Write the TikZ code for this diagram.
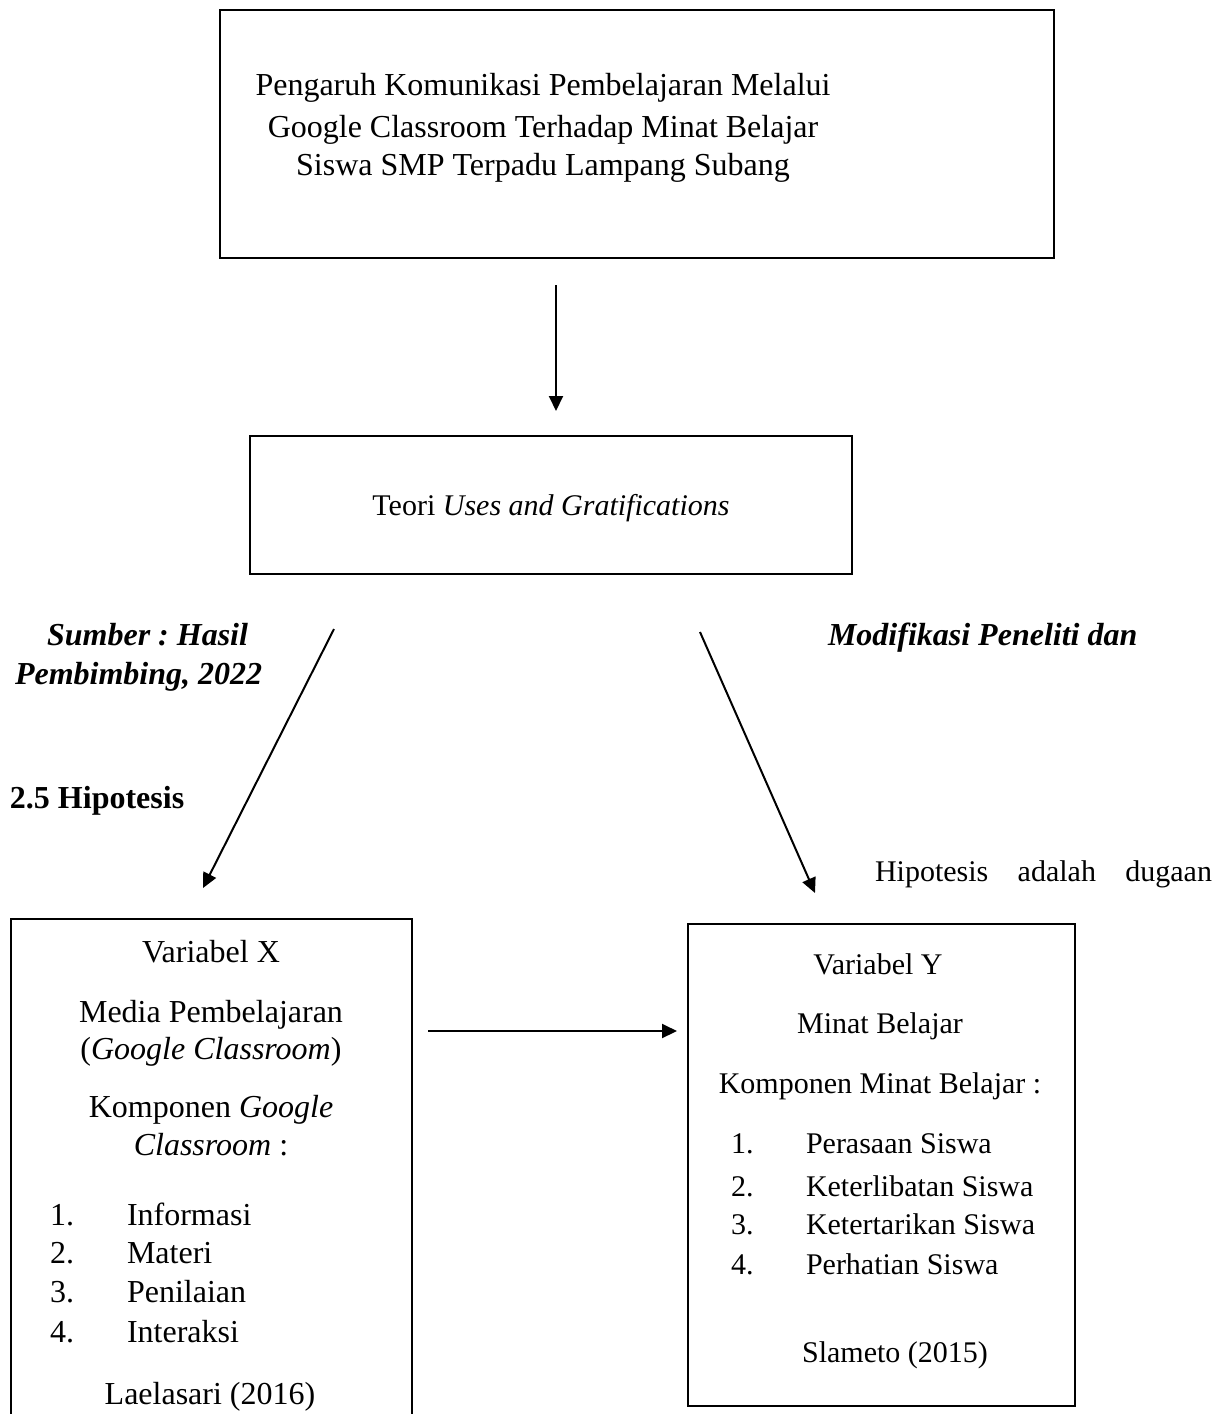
\documentclass[tikz,border=0pt]{standalone}
\usepackage{fontspec}
\setmainfont{Liberation Serif}
\usetikzlibrary{arrows.meta}
\frenchspacing
\begin{document}
\begin{tikzpicture}[x=0.5pt,y=-0.5pt,
  every node/.style={inner sep=0pt,outer sep=0pt,font=\fontsize{16}{20}\selectfont},
  small/.style={font=\fontsize{15}{20}\selectfont},
  box/.style={draw,line width=1pt},
  arr/.style={line width=1pt,-{Triangle[length=7.5pt,width=7pt]}},
  txt/.style={anchor=base},
  txtw/.style={anchor=base west},
  txte/.style={anchor=base east}]
\useasboundingbox (0,0) rectangle (1225,1414);
% top box
\draw[box] (220,10) rectangle (1054,258);
\node[txt] (t1) at (543,95) {Pengaruh Komunikasi Pembelajaran Melalui};
\node[txt] (t2) at (543,137) {Google Classroom Terhadap Minat Belajar};
\node[txt] (t3) at (543,175) {Siswa SMP Terpadu Lampang Subang};
% arrow 1
\coordinate (a1s) at (556,285);
\coordinate (a1e) at (556,411);
\draw[arr] (a1s) -- (a1e);
% teori box
\draw[box] (250,436) rectangle (852,574);
\node[txt,small] (teori) at (551,515) {Teori \textit{Uses and Gratifications}};
% diagonal arrows
\coordinate (l1s) at (334,629);
\coordinate (l1e) at (203,888);
\draw[arr] (l1s) -- (l1e);
\coordinate (r1s) at (700,632);
\coordinate (r1e) at (815,893);
\draw[arr] (r1s) -- (r1e);
% side texts
\node[txte] (s1) at (248,645) {\bfseries\itshape Sumber : Hasil};
\node[txtw] (s2) at (15,684) {\bfseries\itshape Pembimbing, 2022};
\node[txtw] (m1) at (828,645) {\bfseries\itshape Modifikasi Peneliti dan};
\node[txtw] (h1) at (10,808) {\bfseries 2.5 Hipotesis};
\node[txtw,small] (h2) at (875,881) {\makebox[168.5pt][s]{Hipotesis adalah dugaan}};
% left box (open at bottom)
\draw[line width=1pt] (11,1414) -- (11,919) -- (412,919) -- (412,1414);
\node[txt] (lx1) at (211,962) {Variabel X};
\node[txt] (lx2) at (211,1022) {Media Pembelajaran};
\node[txt] (lx3) at (211,1059) {(\textit{Google Classroom})};
\node[txt] (lx4) at (211,1117) {Komponen \textit{Google}};
\node[txt] (lx5) at (211,1155) {\textit{Classroom} :};
\node[txtw] (ln1) at (50,1225) {1.};
\node[txtw] (li1) at (127,1225) {Informasi};
\node[txtw] (ln2) at (50,1263) {2.};
\node[txtw] (li2) at (127,1263) {Materi};
\node[txtw] (ln3) at (50,1302) {3.};
\node[txtw] (li3) at (127,1302) {Penilaian};
\node[txtw] (ln4) at (50,1342) {4.};
\node[txtw] (li4) at (127,1342) {Interaksi};
\node[txt] (lx6) at (210,1404) {Laelasari (2016)};
% horizontal arrow
\coordinate (hs) at (428,1031);
\coordinate (he) at (677,1031);
\draw[arr] (hs) -- (he);
% right box
\draw[box] (688,924) rectangle (1075,1406);
\node[txt,small] (ry1) at (878,974) {Variabel Y};
\node[txt,small] (ry2) at (880,1033) {Minat Belajar};
\node[txt,small] (ry3) at (880,1093) {Komponen Minat Belajar :};
\node[txtw,small] (rn1) at (731,1153) {1.};
\node[txtw,small] (ri1) at (806,1153) {Perasaan Siswa};
\node[txtw,small] (rn2) at (731,1196) {2.};
\node[txtw,small] (ri2) at (806,1196) {Keterlibatan Siswa};
\node[txtw,small] (rn3) at (731,1234) {3.};
\node[txtw,small] (ri3) at (806,1234) {Ketertarikan Siswa};
\node[txtw,small] (rn4) at (731,1274) {4.};
\node[txtw,small] (ri4) at (806,1274) {Perhatian Siswa};
\node[txt,small] (ry4) at (895,1362) {Slameto (2015)};
\end{tikzpicture}
\end{document}
